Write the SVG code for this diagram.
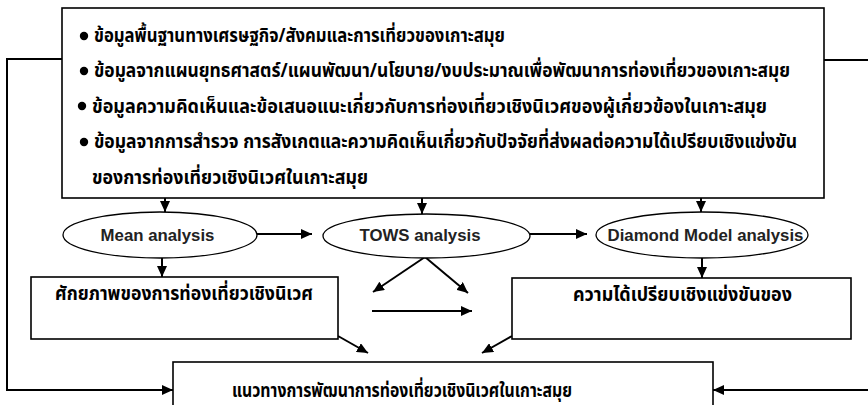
<svg xmlns="http://www.w3.org/2000/svg" width="868" height="405" viewBox="0 0 868 405">
<style>
.box{fill:#fff;stroke:#000;stroke-width:1.6}
.ell{fill:#fff;stroke:#000;stroke-width:1.3}
.ln{fill:none;stroke:#000;stroke-width:2}
.th{font-family:"Noto Sans Thai","Tahoma","Garuda","Loma","DejaVu Sans",sans-serif;font-weight:bold;font-size:19px;fill:#000}
.en{font-family:"Liberation Sans",Arial,sans-serif;font-weight:bold;font-size:16.8px;fill:#222}
</style>
<defs>
<marker id="ah" markerUnits="userSpaceOnUse" markerWidth="11" markerHeight="10" refX="11" refY="5" orient="auto">
<path d="M0,0 L11,5 L0,10 z" fill="#000"/>
</marker>
</defs>
<rect width="868" height="405" fill="#fff"/>
<g id="connectors">
<path class="ln" d="M62,59 H7 V390 H173" marker-end="url(#ah)"/>
<path class="ln" d="M824,60 H868"/>
<path class="ln" d="M868,390 H713" marker-end="url(#ah)"/>
<path class="ln" d="M165,198 V212" marker-end="url(#ah)"/>
<path class="ln" d="M422,198 V214" marker-end="url(#ah)"/>
<path class="ln" d="M701,198 V212" marker-end="url(#ah)"/>
<path class="ln" d="M257,234 H312" marker-end="url(#ah)"/>
<path class="ln" d="M530,234 H587" marker-end="url(#ah)"/>
<path class="ln" d="M162,258 V277" marker-end="url(#ah)"/>
<path class="ln" d="M702,258 V278" marker-end="url(#ah)"/>
<path class="ln" d="M425,257 L373,292" marker-end="url(#ah)"/>
<path class="ln" d="M425,257 L468,293" marker-end="url(#ah)"/>
<path class="ln" d="M372,311 H472" marker-end="url(#ah)"/>
<path class="ln" d="M338,336 L368,353" marker-end="url(#ah)"/>
<path class="ln" d="M512,336 L482,353" marker-end="url(#ah)"/>
</g>
<g id="data-box">
<rect class="box" x="62" y="8" width="762" height="190"/>
<circle cx="84" cy="36" r="4.2"/>
<circle cx="84" cy="71" r="4.2"/>
<circle cx="82" cy="106" r="4.2"/>
<circle cx="84" cy="142" r="4.2"/>
<text class="th" x="94" y="42" textLength="411" lengthAdjust="spacingAndGlyphs">ข้อมูลพื้นฐานทางเศรษฐกิจ/สังคมและการเที่ยวของเกาะสมุย</text>
<text class="th" x="94" y="77" textLength="696" lengthAdjust="spacingAndGlyphs">ข้อมูลจากแผนยุทธศาสตร์/แผนพัฒนา/นโยบาย/งบประมาณเพื่อพัฒนาการท่องเที่ยวของเกาะสมุย</text>
<text class="th" x="92" y="112.5" textLength="675" lengthAdjust="spacingAndGlyphs">ข้อมูลความคิดเห็นและข้อเสนอแนะเกี่ยวกับการท่องเที่ยวเชิงนิเวศของผู้เกี่ยวข้องในเกาะสมุย</text>
<text class="th" x="94" y="148" textLength="703" lengthAdjust="spacingAndGlyphs">ข้อมูลจากการสำรวจ การสังเกตและความคิดเห็นเกี่ยวกับปัจจัยที่ส่งผลต่อความได้เปรียบเชิงแข่งขัน</text>
<text class="th" x="92" y="184" textLength="276" lengthAdjust="spacingAndGlyphs">ของการท่องเที่ยวเชิงนิเวศในเกาะสมุย</text>
</g>
<g id="mean">
<ellipse class="ell" cx="160" cy="235" rx="97" ry="23"/>
<text class="en" x="157.5" y="241" text-anchor="middle">Mean analysis</text>
</g>
<g id="tows">
<ellipse class="ell" cx="426.5" cy="236" rx="103.5" ry="22"/>
<text class="en" x="420" y="241" text-anchor="middle">TOWS analysis</text>
</g>
<g id="diamond">
<ellipse class="ell" cx="702" cy="235" rx="106" ry="23"/>
<text class="en" x="705.5" y="241" text-anchor="middle">Diamond Model analysis</text>
</g>
<g id="potential">
<rect class="box" x="31" y="277" width="307" height="62"/>
<text class="th" x="55" y="300" textLength="258" lengthAdjust="spacingAndGlyphs">ศักยภาพของการท่องเที่ยวเชิงนิเวศ</text>
</g>
<g id="competitive">
<rect class="box" x="512" y="278" width="339" height="61"/>
<text class="th" x="573" y="301" textLength="219" lengthAdjust="spacingAndGlyphs">ความได้เปรียบเชิงแข่งขันของ</text>
</g>
<g id="guideline">
<rect class="box" x="173" y="362" width="540" height="60"/>
<text class="th" x="232" y="397" textLength="340" lengthAdjust="spacingAndGlyphs">แนวทางการพัฒนาการท่องเที่ยวเชิงนิเวศในเกาะสมุย</text>
</g>
</svg>
